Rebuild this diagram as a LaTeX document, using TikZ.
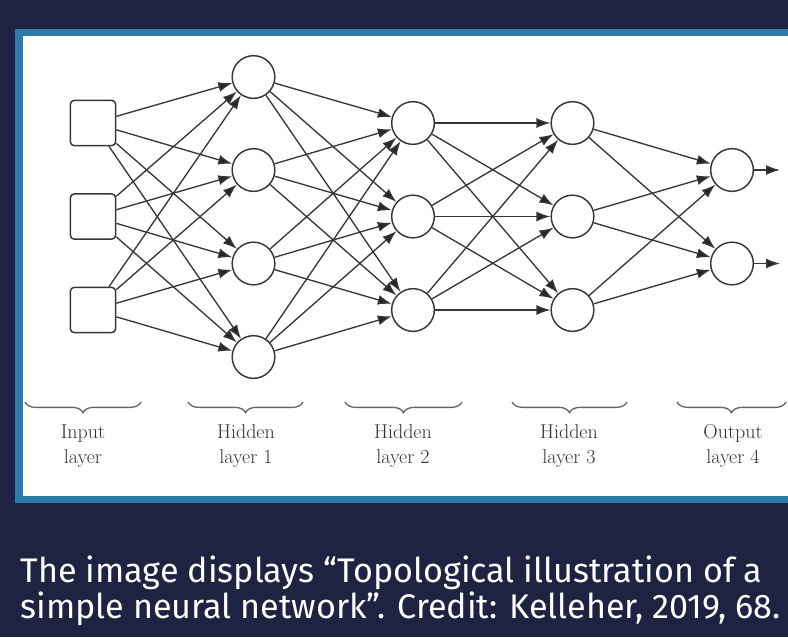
\documentclass[tikz,border=0pt]{standalone}
\usepackage{fontspec}
\newfontfamily\capfont{Fira Sans}
\usetikzlibrary{arrows.meta,decorations.pathreplacing}
\definecolor{navy}{RGB}{29,35,64}
\definecolor{frameblue}{RGB}{43,123,171}
\definecolor{inkgray}{RGB}{55,55,55}
\tikzset{every picture/.style={line width=0.75pt}}
\tikzset{
  unit/.style={circle,draw=inkgray,line width=1.1pt,fill=white,minimum size=32pt,inner sep=0pt},
  inbox/.style={draw=inkgray,line width=1.1pt,rounded corners=3pt,fill=white,minimum size=34pt,inner sep=0pt},
  link/.style={draw=inkgray,line width=1pt,-{Latex[length=10.5pt,width=7.5pt,fill=black!85]}},
  grp/.style={draw=black!60,line width=1pt,decorate,decoration={brace,amplitude=8pt,mirror}},
  lbl/.style={align=center,text=black!80,font=\fontsize{15}{19}\selectfont}
}

\begin{document}
\begin{tikzpicture}[x=0.75pt,y=0.75pt,yscale=-1,xscale=1]
\useasboundingbox (0,0) rectangle (788,637);
% background and frame
\fill[navy] (0,0) rectangle (788,637);
\fill[frameblue] (15,29) rectangle (800,503);
\fill[white] (23,36) rectangle (800,496);

% Input layer
\foreach \k/\y in {1/123,2/216.5,3/310}
  \node[inbox] (i\k) at (93,\y) {};
% Hidden layer 1
\foreach \k/\y in {1/77,2/170,3/263.5,4/357}
  \node[unit] (a\k) at (253.5,\y) {};
% Hidden layer 2
\foreach \k/\y in {1/123,2/216.5,3/310}
  \node[unit] (b\k) at (413,\y) {};
% Hidden layer 3
\foreach \k/\y in {1/123,2/216.5,3/310}
  \node[unit] (c\k) at (572.5,\y) {};
% Output layer
\foreach \k/\y in {1/170,2/263.5}
  \node[unit] (o\k) at (732,\y) {};
\coordinate (e1) at (780,170);
\coordinate (e2) at (780,263.5);

% Connections
\foreach \s in {1,2,3}
  \foreach \t in {1,2,3,4}
    \draw[link] (i\s) -- (a\t);
\foreach \s in {1,2,3,4}
  \foreach \t in {1,2,3}
    \draw[link] (a\s) -- (b\t);
\foreach \s in {1,2,3}
  \foreach \t in {1,2,3}
    \draw[link] (b\s) -- (c\t);
\foreach \s in {1,2,3}
  \foreach \t in {1,2}
    \draw[link] (c\s) -- (o\t);
\draw[link] (o1) -- (e1);
\draw[link] (o2) -- (e2);

% Braces and labels
\draw[grp] (25,402) -- (141,402);
\draw[grp] (188,402) -- (303,402);
\draw[grp] (345,402) -- (462,402);
\draw[grp] (512,402) -- (627,402);
\draw[grp] (677,402) -- (786,402);
\node[lbl] (lin) at (83,446) {Input\\layer};
\node[lbl] (lh1) at (246,446) {Hidden\\layer 1};
\node[lbl] (lh2) at (403,446) {Hidden\\layer 2};
\node[lbl] (lh3) at (569,446) {Hidden\\layer 3};
\node[lbl] (lout) at (733,446) {Output\\layer 4};

% Caption
\node[anchor=base west,inner sep=0pt,text=white,font=\capfont\fontsize{25.6}{29}\selectfont] (cap1) at (20,582) {The image displays “Topological illustration of a};
\node[anchor=base west,inner sep=0pt,text=white,font=\capfont\fontsize{25.6}{29}\selectfont] (cap2) at (20,618) {simple neural network”. Credit: Kelleher, 2019, 68.};
\end{tikzpicture}
\end{document}
